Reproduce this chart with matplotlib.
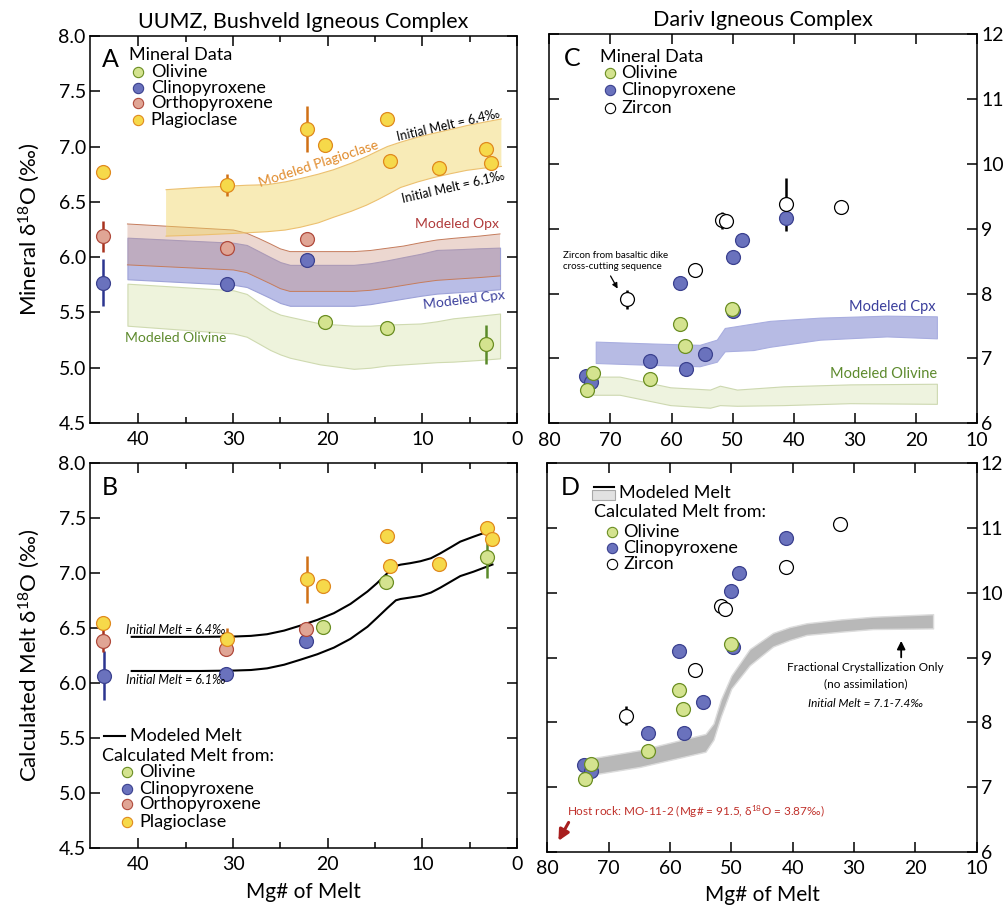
import numpy as np
import matplotlib
matplotlib.use('Agg')
import matplotlib.pyplot as plt
from matplotlib.patches import Rectangle
from matplotlib.lines import Line2D

plt.rcParams['font.family'] = ['Lato', 'DejaVu Sans']
plt.rcParams['mathtext.fontset'] = 'custom'
plt.rcParams['mathtext.rm'] = 'Lato'
plt.rcParams['mathtext.it'] = 'Lato:italic'

# ---------------- UUMZ, Bushveld (panels A and B) ----------------
# mineral data (panel A)
bv_plag_mg = [43.7, 30.66, 22.2, 20.33, 13.74, 13.46, 8.28, 3.24, 2.71]
bv_plag_d18o = [6.77, 6.65, 7.16, 7.01, 7.25, 6.87, 6.81, 6.975, 6.85]
bv_plag_err = [0, 0.10, 0.21, 0, 0, 0, 0, 0, 0]
bv_opx_mg = [43.7, 30.66, 22.2]
bv_opx_d18o = [6.19, 6.08, 6.165]
bv_opx_err = [0.14, 0, 0]
bv_cpx_mg = [43.7, 30.66, 22.2]
bv_cpx_d18o = [5.77, 5.76, 5.97]
bv_cpx_err = [0.21, 0, 0]
bv_ol_mg = [20.33, 13.74, 3.24]
bv_ol_d18o = [5.41, 5.36, 5.21]
bv_ol_err = [0, 0, 0.18]

# modeled mineral bands (panel A)
band_mg = [41.15, 29.95, 28.55, 27.3, 26.06, 25.0, 23.98, 20.8, 17.25, 15.5, 13.76, 12.0, 10.2, 8.48, 6.73, 4.0, 1.8]
opx_band_hi = [6.30, 6.245, 6.216, 6.17, 6.12, 6.075, 6.05, 6.05, 6.05, 6.06, 6.08, 6.10, 6.13, 6.155, 6.17, 6.19, 6.21]
opx_band_lo = [5.93, 5.884, 5.86, 5.81, 5.76, 5.715, 5.69, 5.69, 5.69, 5.70, 5.72, 5.745, 5.77, 5.79, 5.80, 5.815, 5.83]
cpx_band_hi = [6.176, 6.13, 6.11, 6.055, 6.00, 5.955, 5.93, 5.93, 5.93, 5.945, 5.97, 6.00, 6.03, 6.065, 6.07, 6.08, 6.086]
cpx_band_lo = [5.80, 5.75, 5.73, 5.68, 5.63, 5.585, 5.56, 5.56, 5.56, 5.575, 5.60, 5.625, 5.65, 5.67, 5.68, 5.695, 5.71]
ol_band_hi = [5.76, 5.70, 5.667, 5.59, 5.52, 5.48, 5.46, 5.40, 5.38, 5.38, 5.39, 5.395, 5.40, 5.42, 5.447, 5.47, 5.49]
ol_band_lo = [5.38, 5.31, 5.28, 5.22, 5.16, 5.12, 5.09, 5.03, 4.99, 5.00, 5.02, 5.03, 5.04, 5.05, 5.055, 5.07, 5.085]
plag_band_mg = [37.07, 33.5, 28.55, 26.4, 24.5, 22.9, 21.0, 19.4, 17.5, 15.9, 14.7, 13.7, 12.3, 10.5, 8.8, 7.0, 5.3, 3.5, 1.66]
plag_band_hi = [6.61, 6.63, 6.65, 6.655, 6.68, 6.71, 6.75, 6.79, 6.85, 6.91, 6.96, 7.00, 7.04, 7.085, 7.12, 7.155, 7.19, 7.22, 7.25]
plag_band_lo = [6.19, 6.20, 6.22, 6.23, 6.245, 6.27, 6.31, 6.36, 6.415, 6.47, 6.52, 6.565, 6.63, 6.68, 6.72, 6.755, 6.785, 6.805, 6.82]

# calculated melt (panel B)
mt_plag_mg = [43.7, 30.66, 22.2, 20.5, 13.74, 13.4, 8.28, 3.17, 2.6]
mt_plag_d18o = [6.548, 6.397, 6.94, 6.88, 7.335, 7.06, 7.08, 7.41, 7.31]
mt_plag_err = [0, 0.10, 0.21, 0, 0, 0, 0, 0, 0]
mt_opx_mg = [43.7, 30.76, 22.3]
mt_opx_d18o = [6.38, 6.306, 6.49]
mt_opx_err = [0.1, 0, 0]
mt_cpx_mg = [43.6, 30.7, 22.3]
mt_cpx_d18o = [6.067, 6.08, 6.38]
mt_cpx_err = [0.22, 0, 0]
mt_ol_mg = [20.5, 13.8, 3.17]
mt_ol_d18o = [6.51, 6.92, 7.14]
mt_ol_err = [0, 0, 0.19]

melt_mg = [40.7, 33.4, 29.9, 28.1, 26.4, 24.6, 22.9, 21.1, 19.35, 17.6, 15.8, 14.8, 13.7, 12.8,
           12.3, 11.3, 10.2, 9.1, 8.1, 7.0, 6.0, 4.6, 2.6]
melt_64 = [6.418, 6.418, 6.421, 6.427, 6.442, 6.475, 6.52, 6.572, 6.633, 6.717, 6.83, 6.905, 6.996, 7.062,
           7.074, 7.087, 7.105, 7.132, 7.177, 7.232, 7.283, 7.328, 7.389]
melt_61 = [6.108, 6.108, 6.112, 6.117, 6.132, 6.165, 6.21, 6.26, 6.32, 6.40, 6.51, 6.59, 6.68, 6.75,
           6.762, 6.775, 6.79, 6.82, 6.865, 6.92, 6.97, 7.01, 7.075]

# ---------------- Dariv (panels C and D) ----------------
dv_ol_mg = [73.9, 72.9, 63.6, 58.6, 57.8, 50.1]
dv_ol_d18o = [6.51, 6.77, 6.69, 7.53, 7.19, 7.77]
dv_cpx_mg = [74.0, 73.1, 63.6, 58.6, 57.7, 54.6, 50.0, 50.0, 48.4, 41.2]
dv_cpx_d18o = [6.73, 6.64, 6.96, 8.17, 6.83, 7.07, 7.73, 8.56, 8.82, 9.16]
dv_zr_mg = [67.35, 56.1, 51.7, 51.1, 41.2, 32.3]
dv_zr_d18o = [7.91, 8.36, 9.13, 9.12, 9.38, 9.33]
dv_zr_err = [0.15, 0.10, 0.13, 0, 0.41, 0]

dv_cpx_band_mg = [72.4, 63.0, 55.4, 52.6, 51.3, 46.6, 43.9, 35.7, 24.8, 16.6]
dv_cpx_band_hi = [7.26, 7.23, 7.21, 7.29, 7.47, 7.54, 7.58, 7.63, 7.66, 7.65]
dv_cpx_band_lo = [6.93, 6.90, 6.88, 6.95, 7.11, 7.13, 7.18, 7.29, 7.34, 7.31]
dv_ol_band_mg = [72.8, 68.5, 60.2, 53.7, 52.1, 49.3, 41.7, 30.8, 16.6]
dv_ol_band_hi = [6.72, 6.72, 6.555, 6.52, 6.58, 6.52, 6.57, 6.60, 6.61]
dv_ol_band_lo = [6.44, 6.44, 6.28, 6.24, 6.28, 6.27, 6.28, 6.31, 6.30]

dm_ol_mg = [73.86, 72.93, 63.64, 58.5, 57.8, 50.1]
dm_ol_d18o = [7.13, 7.36, 7.555, 8.50, 8.20, 9.21]
dm_cpx_mg = [73.97, 72.8, 63.64, 58.5, 57.7, 54.6, 49.7, 50.05, 48.7, 41.1]
dm_cpx_d18o = [7.34, 7.25, 7.84, 9.10, 7.84, 8.32, 9.17, 10.03, 10.30, 10.84]
dm_zr_mg = [67.2, 55.9, 51.7, 51.0, 41.1, 32.3]
dm_zr_d18o = [8.10, 8.81, 9.80, 9.75, 10.40, 11.07]
dm_zr_err = [0.15, 0.09, 0, 0, 0, 0]

dm_band_mg = [73.0, 64.9, 54.2, 52.9, 51.7, 50.0, 47.0, 43.2, 40.5, 37.7, 32.0, 26.9, 17.1]
dm_band_hi = [7.44, 7.57, 7.82, 7.98, 8.35, 8.72, 9.13, 9.38, 9.47, 9.53, 9.59, 9.63, 9.67]
dm_band_lo = [7.185, 7.31, 7.545, 7.73, 8.09, 8.52, 8.88, 9.17, 9.27, 9.35, 9.40, 9.44, 9.45]

# colours
OL = ('#d4e38f', '#6b8e23', '#5a8a2a')
CPX = ('#6a72bd', '#3b418f', '#2c3590')
OPX = ('#e0a595', '#b04a3c', '#a8321e')
PLAG = ('#f6d94a', '#e08a1e', '#d07015')
ZR = ('white', 'black', 'black')
LEG_FS = 13


def points(ax, x, y, col, err=None):
    if err is not None:
        ax.errorbar(x, y, yerr=err, fmt='none', ecolor=col[2], elinewidth=1.8, capsize=0, zorder=2)
    ax.scatter(x, y, s=100, c=col[0], edgecolors=col[1], linewidths=0.9, zorder=3)


def legend_rows(ax, xm, xt, ys, cols, names):
    for y, col, name in zip(ys, cols, names):
        ax.scatter([xm], [y], s=55, c=col[0], edgecolors=col[1], linewidths=0.8,
                   transform=ax.transAxes, zorder=5, clip_on=False)
        ax.text(xt, y, name, transform=ax.transAxes, va='center', ha='left', fontsize=LEG_FS)


def style(ax, left_panel):
    if left_panel:
        ax.set_xlim(45.1, 0)
        ax.set_ylim(4.5, 8.0)
        ax.set_xticks([40, 30, 20, 10, 0])
        ax.set_xticks([35, 25, 15, 5], minor=True)
        ax.set_yticks(np.arange(4.5, 8.01, 0.5))
        ax.set_yticklabels(['%.1f' % v for v in np.arange(4.5, 8.01, 0.5)])
        ax.tick_params(which='both', direction='in', top=True, right=True, width=1.1, labelsize=14)
        ax.tick_params(axis='x', which='major', length=7, pad=6)
        ax.tick_params(axis='x', which='minor', length=4.5)
        ax.tick_params(axis='y', length=7, pad=3)
    else:
        ax.set_xlim(80, 10)
        ax.set_ylim(6, 12)
        ax.set_xticks([80, 70, 60, 50, 40, 30, 20, 10])
        ax.set_yticks(range(6, 13))
        ax.tick_params(direction='in', top=True, right=True, left=True, labelleft=False,
                       labelright=True, width=1.1, length=7, labelsize=14)
        ax.tick_params(axis='x', pad=6)
        ax.tick_params(axis='y', pad=3)
    for s in ax.spines.values():
        s.set_linewidth(1.1)


fig = plt.figure(figsize=(10.06, 9.06), dpi=100)
axA = fig.add_axes([0.0895, 0.5331, 0.4245, 0.4272])
axB = fig.add_axes([0.0895, 0.0640, 0.4245, 0.4253])
axC = fig.add_axes([0.5460, 0.5328, 0.4254, 0.4293])
axD = fig.add_axes([0.5440, 0.0599, 0.4268, 0.4287])

# ---------- A ----------
ax = axA
ax.fill_between(band_mg, ol_band_lo, ol_band_hi, facecolor='#eef3dc', edgecolor='#cfdab0', lw=0.8, zorder=1)
ax.fill_between(band_mg, cpx_band_lo, cpx_band_hi, facecolor='#b9bde6', edgecolor='#9da2d8', lw=0.8, zorder=1)
ax.fill_between(band_mg, opx_band_lo, opx_band_hi, facecolor='#c98e7a', alpha=0.35, edgecolor='none', zorder=1)
ax.plot(band_mg, opx_band_lo, color='#c57c5c', lw=0.7, zorder=1)
ax.plot(band_mg, opx_band_hi, color='#c57c5c', lw=0.7, zorder=1)
ax.fill_between(plag_band_mg, plag_band_lo, plag_band_hi, facecolor='#f0d460', alpha=0.45, edgecolor='none', zorder=1)
ax.plot(plag_band_mg, plag_band_lo, color='#ecc070', lw=0.8, zorder=1)
ax.plot(plag_band_mg, plag_band_hi, color='#ecc070', lw=0.8, zorder=1)
points(ax, bv_ol_mg, bv_ol_d18o, OL, bv_ol_err)
points(ax, bv_cpx_mg, bv_cpx_d18o, CPX, bv_cpx_err)
points(ax, bv_opx_mg, bv_opx_d18o, OPX, bv_opx_err)
points(ax, bv_plag_mg, bv_plag_d18o, PLAG, bv_plag_err)
ax.text(21.0, 6.84, 'Modeled Plagioclase', color='#e08a2a', fontsize=10, rotation=18, ha='center', va='center')
ax.text(6.4, 6.30, 'Modeled Opx', color='#b03a3a', fontsize=10, ha='center', va='center')
ax.text(5.6, 5.61, 'Modeled Cpx', color='#3b3f9c', fontsize=10, rotation=7, ha='center', va='center')
ax.text(36.04, 5.27, 'Modeled Olivine', color='#5d8a2d', fontsize=10, ha='center', va='center')
ax.text(7.29, 7.195, 'Initial Melt = 6.4‰', fontsize=9, rotation=13, ha='center', va='center')
ax.text(6.73, 6.63, 'Initial Melt = 6.1‰', fontsize=9, rotation=13, ha='center', va='center')
ax.text(0.047, 0.938, 'A', transform=ax.transAxes, fontsize=18, ha='center', va='center')
ax.text(0.091, 0.951, 'Mineral Data', transform=ax.transAxes, fontsize=LEG_FS, ha='left', va='center')
legend_rows(ax, 0.112, 0.142, [0.908, 0.866, 0.826, 0.783], [OL, CPX, OPX, PLAG],
            ['Olivine', 'Clinopyroxene', 'Orthopyroxene', 'Plagioclase'])
style(ax, True)
ax.set_ylabel('Mineral δ$^{18}$O (‰)', fontsize=16, labelpad=12)
ax.set_title('UUMZ, Bushveld Igneous Complex', fontsize=15.5, pad=6)

# ---------- B ----------
ax = axB
ax.plot(melt_mg, melt_64, color='black', lw=1.5, zorder=1)
ax.plot(melt_mg, melt_61, color='black', lw=1.5, zorder=1)
points(ax, mt_ol_mg, mt_ol_d18o, OL, mt_ol_err)
points(ax, mt_cpx_mg, mt_cpx_d18o, CPX, mt_cpx_err)
points(ax, mt_opx_mg, mt_opx_d18o, OPX, mt_opx_err)
points(ax, mt_plag_mg, mt_plag_d18o, PLAG, mt_plag_err)
ax.text(41.3, 6.48, 'Initial Melt = 6.4‰', fontsize=9, style='italic', ha='left', va='center')
ax.text(41.3, 6.03, 'Initial Melt = 6.1‰', fontsize=9, style='italic', ha='left', va='center')
ax.text(0.047, 0.935, 'B', transform=ax.transAxes, fontsize=18, ha='center', va='center')
ax.add_line(Line2D([0.033, 0.082], [0.291, 0.291], color='black', lw=1.5, transform=ax.transAxes))
ax.text(0.094, 0.291, 'Modeled Melt', transform=ax.transAxes, fontsize=LEG_FS, ha='left', va='center')
ax.text(0.027, 0.239, 'Calculated Melt from:', transform=ax.transAxes, fontsize=LEG_FS, ha='left', va='center')
legend_rows(ax, 0.087, 0.115, [0.197, 0.154, 0.113, 0.068], [OL, CPX, OPX, PLAG],
            ['Olivine', 'Clinopyroxene', 'Orthopyroxene', 'Plagioclase'])
style(ax, True)
ax.set_ylabel('Calculated Melt δ$^{18}$O (‰)', fontsize=16, labelpad=12)
ax.set_xlabel('Mg# of Melt', fontsize=15, labelpad=6)

# ---------- C ----------
ax = axC
ax.fill_between(dv_ol_band_mg, dv_ol_band_lo, dv_ol_band_hi, facecolor='#eef3df', edgecolor='#cdd8b0', lw=0.8, zorder=1)
ax.fill_between(dv_cpx_band_mg, dv_cpx_band_lo, dv_cpx_band_hi, facecolor='#b7bbe4', edgecolor='#a9aee0', lw=0.8, zorder=1)
points(ax, dv_cpx_mg, dv_cpx_d18o, CPX)
points(ax, dv_ol_mg, dv_ol_d18o, OL)
points(ax, dv_zr_mg, dv_zr_d18o, ZR, dv_zr_err)
ax.text(16.8, 7.80, 'Modeled Cpx', color='#3b3f9c', fontsize=10.5, ha='right', va='center')
ax.text(16.5, 6.756, 'Modeled Olivine', color='#5d8a2d', fontsize=10.5, ha='right', va='center')
ax.text(77.7, 8.50, 'Zircon from basaltic dike\ncross-cutting sequence', fontsize=7, ha='left', va='center',
        linespacing=1.3)
ax.annotate('', xy=(68.6, 8.04), xytext=(70.2, 8.31),
            arrowprops=dict(arrowstyle='-|>', color='black', lw=0.9, mutation_scale=8))
ax.text(0.053, 0.9375, 'C', transform=ax.transAxes, fontsize=18, ha='center', va='center')
ax.text(0.1175, 0.942, 'Mineral Data', transform=ax.transAxes, fontsize=LEG_FS, ha='left', va='center')
legend_rows(ax, 0.141, 0.168, [0.9005, 0.856, 0.8116], [OL, CPX, ZR],
            ['Olivine', 'Clinopyroxene', 'Zircon'])
style(ax, False)
ax.set_title('Dariv Igneous Complex', fontsize=15.5, pad=6)

# ---------- D ----------
ax = axD
ax.fill_between(dm_band_mg, dm_band_lo, dm_band_hi, facecolor='#b8b8b8', edgecolor='#dcdcdc', lw=1.0, zorder=1)
points(ax, dm_cpx_mg, dm_cpx_d18o, CPX)
points(ax, dm_ol_mg, dm_ol_d18o, OL)
points(ax, dm_zr_mg, dm_zr_d18o, ZR, dm_zr_err)
ax.annotate('', xy=(22.3, 9.30), xytext=(22.3, 8.96),
            arrowprops=dict(arrowstyle='-|>', color='black', lw=1.3, mutation_scale=12))
ax.text(28.1, 8.72, 'Fractional Crystallization Only\n(no assimilation)', fontsize=8.5, ha='center',
        va='center', linespacing=1.5)
ax.text(28.1, 8.29, 'Initial Melt = 7.1-7.4‰', fontsize=8.5, style='italic', ha='center', va='center')
ax.text(76.84, 6.62, 'Host rock: MO-11-2 (Mg# = 91.5, δ$^{18}$O = 3.87‰)', color='#c0302a', fontsize=8.5,
        ha='left', va='center')
ax.annotate('', xy=(78.4, 6.13), xytext=(76.3, 6.49),
            arrowprops=dict(arrowstyle='-|>', color='#a81e1e', lw=2.2, mutation_scale=16))
ax.text(0.0535, 0.939, 'D', transform=ax.transAxes, fontsize=18, ha='center', va='center')
ax.add_patch(Rectangle((0.104, 0.905), 0.053, 0.026, transform=ax.transAxes, facecolor='#e2e2e2',
                       edgecolor='#a8a8a8', lw=0.8))
ax.add_line(Line2D([0.108, 0.156], [0.939, 0.939], color='black', lw=1.5, transform=ax.transAxes))
ax.text(0.1667, 0.9247, 'Modeled Melt', transform=ax.transAxes, fontsize=LEG_FS, ha='left', va='center')
ax.text(0.109, 0.875, 'Calculated Melt from:', transform=ax.transAxes, fontsize=LEG_FS, ha='left', va='center')
legend_rows(ax, 0.150, 0.177, [0.8234, 0.7823, 0.7404], [OL, CPX, ZR],
            ['Olivine', 'Clinopyroxene', 'Zircon'])
style(ax, False)
ax.set_xlabel('Mg# of Melt', fontsize=15, labelpad=6)

fig.savefig('out.png', dpi=100)
